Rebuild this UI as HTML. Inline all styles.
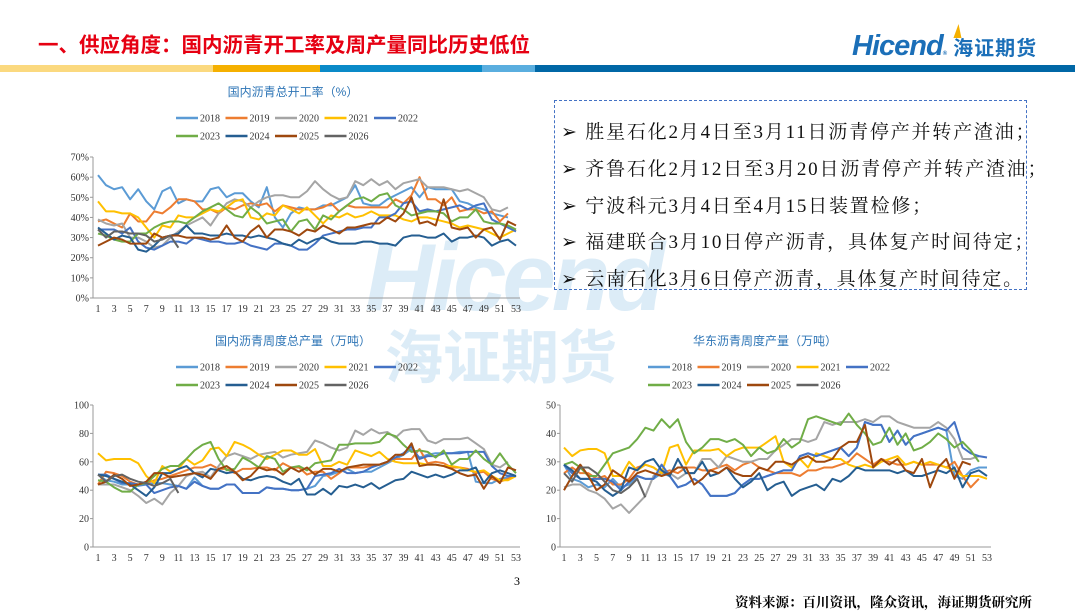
<!DOCTYPE html>
<html><head><meta charset="utf-8">
<style>
body{margin:0;width:1080px;height:607px;overflow:hidden;background:#fff;position:relative;font-family:"Liberation Serif","Noto Serif CJK SC",serif;}
.abs{position:absolute;}
#title{left:38px;top:28px;font-size:20.5px;color:#e60012;font-family:"Liberation Sans","Noto Sans CJK SC",sans-serif;font-weight:bold;}
.bar{position:absolute;top:65px;height:7px;}
#box{left:554px;top:100px;width:471px;height:188px;border:1.5px dashed #4472c4;}
.bl{position:absolute;left:6px;font-size:19px;color:#111;white-space:nowrap;font-family:"Liberation Serif","Noto Serif CJK SC",serif;letter-spacing:1.8px;}
svg{position:absolute;left:0;top:0;}
</style></head><body>
<div id="title" class="abs">一、供应角度：国内沥青开工率及周产量同比历史低位</div>
<div class="bar" style="left:0;width:213px;background:#fbd97f"></div>
<div class="bar" style="left:213px;width:107px;background:#f5b000"></div>
<div class="bar" style="left:320px;width:162px;background:#0a8ac8"></div>
<div class="bar" style="left:482px;width:53px;background:#5aaedf"></div>
<div class="bar" style="left:535px;width:540px;background:#0067a6"></div>
<div class="abs" style="left:852px;top:30px;font-family:'Liberation Sans','Noto Sans CJK SC',sans-serif;font-weight:bold;color:#1b6fb8;white-space:nowrap;">
<span style="font-size:29px;font-style:italic;letter-spacing:-1px">Hicend</span><span style="font-size:6px">®</span><span style="font-size:20px;margin-left:6px;letter-spacing:1px">海证期货</span>
<div class="abs" style="left:104px;top:-6px;width:0;height:0;border-left:8px solid #f5b000;border-top:14px solid transparent;transform:skewX(-20deg)"></div></div>
<div class="abs" style="left:365px;top:228px;color:#dcecf7;font-family:'Liberation Sans','Noto Sans CJK SC',sans-serif;font-weight:bold;white-space:nowrap;z-index:0">
<div style="font-size:96px;font-style:italic;letter-spacing:-4px;line-height:100px">Hicend</div>
<div style="font-size:58px;line-height:62px;margin-left:20px">海证期货</div></div>
<svg id="chart" width="1080" height="607"></svg>
<div id="box" class="abs">
<div class="bl" style="top:16px">➢ 胜星石化2月4日至3月11日沥青停产并转产渣油；</div>
<div class="bl" style="top:53px">➢ 齐鲁石化2月12日至3月20日沥青停产并转产渣油；</div>
<div class="bl" style="top:90px">➢ 宁波科元3月4日至4月15日装置检修；</div>
<div class="bl" style="top:126px">➢ 福建联合3月10日停产沥青，具体复产时间待定；</div>
<div class="bl" style="top:163px">➢ 云南石化3月6日停产沥青，具体复产时间待定。</div>
</div>
<div class="abs" style="left:514px;top:574px;font-size:12px">3</div>
<div class="abs" style="left:735px;top:591px;font-size:13.5px;font-weight:bold;font-family:'Liberation Serif','Noto Serif CJK SC',serif">资料来源：百川资讯，隆众资讯，海证期货研究所</div>
<script>
const years=["2018","2019","2020","2021","2022","2023","2024","2025","2026"];
const colors=["#5b9bd5","#ed7d31","#a5a5a5","#ffc000","#4472c4","#70ad47","#255e91","#9e480e","#636363"];
const rate2018=[61,56,54,55,49,54,48,44,53,55,47,49,48,48,54,55,50,52,52,48,45,55,40,35,42,45,44,44,46,46,48,50,56,47,46,46,49,51,53,55,50,55,54,54,54,48,47,45,44,42,41,40];
const rate2019=[38,39,37,35,42,38,38,43,42,45,49,49,48,44,44,42,45,44,46,47,46,47,43,46,45,44,44,44,45,47,43,46,45,45,45,45,45,49,47,51,60,49,49,46,50,43,44,44,42,43,38,42];
const rate2020=[39,37,36,37,30,30,28,25,26,30,33,36,38,40,36,42,47,49,48,45,48,50,51,51,50,50,53,58,54,51,49,50,58,56,59,56,58,54,57,58,59,55,55,55,54,53,54,52,50,44,43,45];
const rate2021=[48,43,43,42,42,40,35,30,36,35,41,40,40,42,44,43,45,48,49,40,39,42,41,46,44,42,45,41,37,41,40,42,40,41,43,41,41,41,39,38,40,40,39,38,37,35,36,35,34,32,30,32,34];
const rate2022=[34,34,34,32,35,28,25,24,26,28,28,27,30,29,28,28,27,27,28,26,25,24,27,27,26,24,24,27,31,32,33,34,34,35,35,40,40,42,47,48,43,44,43,44,45,46,44,46,47,39,37,35,33];
const rate2023=[32,31,29,28,28,32,32,35,37,38,38,37,40,43,45,47,44,41,40,45,42,37,38,39,33,38,39,34,41,39,43,46,49,50,48,51,52,46,44,41,42,43,43,42,38,40,40,44,38,37,37,36,34];
const rate2024=[35,32,29,31,30,24,23,26,30,31,32,36,32,32,31,31,32,31,31,30,31,30,29,27,26,29,27,29,30,28,27,27,27,28,28,27,27,26,30,31,31,30,30,32,28,30,30,31,30,26,28,29,26];
const rate2025=[26,28,30,29,27,27,27,32,30,31,31,30,30,30,29,30,36,30,28,33,36,30,34,34,33,31,34,33,36,34,32,35,35,36,37,37,40,38,42,50,37,38,36,49,35,34,35,30,34,35,29,38,36];
const rate2026=[34,30,33,33,32,32,31,28,29,31,25];
const nat2018=[51,47,46,44,44,43,44,45,45,44,43,41,49,43,41,41,44,44,38,38,38,42,41,41,40,40,41,43,50,51,53,55,52,53,53,56,59,62,65,69,63,65,66,66,66,67,67,46,45,45,48,49,50];
const nat2019=[44,53,52,50,46,44,45,47,48,50,52,54,56,56,58,55,55,52,55,55,56,56,54,59,56,56,51,53,53,48,52,56,56,56,57,58,60,62,62,62,69,59,60,59,56,56,55,52,53,48,46,48,50];
const nat2020=[44,44,44,42,40,36,31,34,30,38,43,50,52,53,49,57,64,66,64,62,65,66,67,63,65,66,67,75,73,70,68,70,82,79,83,80,81,77,82,83,83,75,73,76,76,76,77,73,69,58,56,60];
const nat2021=[66,61,62,62,62,59,50,45,57,53,55,62,58,61,69,70,64,74,72,69,65,62,65,68,68,65,65,69,57,57,60,58,68,66,64,67,62,60,59,59,59,58,58,57,57,56,54,53,54,50,47,47,50];
const nat2022=[51,51,48,45,45,44,44,38,40,42,43,41,46,43,41,41,44,44,38,38,38,42,41,41,40,40,41,50,51,52,55,52,52,53,56,58,60,63,66,71,62,64,64,66,66,66,67,67,67,57,52,50,50];
const nat2023=[47,46,42,39,39,44,45,50,55,57,57,62,68,72,74,62,54,55,63,60,56,64,62,53,56,57,54,59,60,61,72,72,73,73,73,74,80,78,72,67,68,67,63,68,58,62,62,68,62,58,66,58,52];
const nat2024=[51,50,48,46,44,40,36,42,52,52,55,57,52,49,55,54,52,53,48,47,49,50,49,46,44,48,37,37,41,37,43,42,44,42,45,41,44,47,48,53,51,49,51,49,51,54,54,56,45,52,54,52,50];
const nat2025=[44,46,51,48,43,44,46,52,52,49,50,51,52,51,48,55,57,53,47,50,56,54,55,51,56,53,56,51,55,55,53,56,57,58,58,58,60,65,65,73,57,58,58,57,55,52,50,51,41,50,45,56,54];
const nat2026=[51,46,50,51,48,46,45,43,45,48,38];
const east2018=[29,24,23,21,22,21,24,21,22,25,24,24,26,25,21,22,24,22,18,18,18,19,22,24,24,25,26,27,27,32,33,32,33,34,35,32,35,44,43,43,37,41,36,39,40,41,42,41,25,24,27,28,28];
const east2019=[26,28,26,26,24,25,22,22,24,28,29,28,26,27,26,28,28,27,27,28,29,27,29,30,28,27,26,26,26,25,27,27,28,28,29,30,33,31,29,31,30,29,29,30,29,29,29,28,30,25,21,24];
const east2020=[21,22,22,20,19,17,13.5,15,12,15,18,25,27,26,24,26,26,31,31,28,32,31,30,30,31,31,34,36,38,38,37,38,44,43,44,44,44,45,44,46,46,44,43,42,42,42,44,42,38,31,31,32];
const east2021=[35,32,34,34.5,34.5,33,25,25,30,27,29,28,26,35,36,29,34,34,34,34.5,32,34,35,35,35,37,39,30,28,31,28,33,32,31,31,29,28,29,28,30,31,32,29,30,29,30,29,28,27,25,25,25,24];
const east2022=[29,26,24,24,24,24,23,20,23,25,24,24,29,25,21,22,24,22,18,18,18,19,22,24,24,25,26,27,27,32,33,32,33,34,35,32,35,44,43,43,37,41,36,39,40,41,42,41,44,35,33,32,31.5];
const east2023=[29,30,28,25,25,29,33,34,35,38,42,41,45,42,45,37,33,35,38,38,37,38,36,32,35,33,34,38,35,37,45,46,45,44,43,47,43,40,36,37,42,36,40,34,35,37,40,38,35,37,34,30];
const east2024=[29,27,24,24,23,20,18,20,28,27,30,31,27,25,31,26,26,30,25,26,28,24,21,23,26,20,22,23,18,20,21,22,20,24,23,25,28,27,27,27,27,26,27,25,25,26,27,26,28,21,26,27,25];
const east2025=[20,25,29,25,20,22,27,25,23,26,27,26,25,26,28,28,22,24,27,26,28,26,25,25,28,27,30,30,29,31,32,30,30,31,35,37,37,43,28,31,29,31,27,26,31,21,28,31,24,30,29];
const east2026=[26,23,28,28,26,23,20,19,21,24,17.5];
const rateTicks=["0%","10%","20%","30%","40%","50%","60%","70%"];
const natTicks=["0","20","40","60","80","100"];
const eastTicks=["0","10","20","30","40","50"];
const weeks=[];for(let w=1;w<=53;w+=2)weeks.push(String(w));

const svg=document.getElementById('chart');
const NS="http://www.w3.org/2000/svg";
function mk(tag,attrs,parent){const e=document.createElementNS(NS,tag);for(const k in attrs)e.setAttribute(k,attrs[k]);(parent||svg).appendChild(e);return e;}
function chart(cfg,name){
  const g=mk('g',{});
  
  
  const xs=w=>cfg.x1+(w-1)*(cfg.x53-cfg.x1)/52;
  const ys=v=>cfg.y0-(v/cfg.max)*(cfg.y0-cfg.yTop);
  const t=mk('text',{x:cfg.tx,y:cfg.ty,'text-anchor':'middle','font-size':12,fill:'#2e75b6','font-family':'Liberation Sans,Noto Sans CJK SC,sans-serif'},g);t.textContent=cfg.title;
  
  
  mk('line',{x1:cfg.ax0,x2:cfg.ax0,y1:cfg.yTop,y2:cfg.y0,stroke:'#999'},g);
  mk('line',{x1:cfg.ax0,x2:cfg.ax1,y1:cfg.y0,y2:cfg.y0,stroke:'#999'},g);
  const n=cfg.ticks.length;
  cfg.ticks.forEach((lb,i)=>{const v=cfg.max*i/(n-1);const y=ys(v);
    mk('line',{x1:cfg.ax0-3,x2:cfg.ax0,y1:y,y2:y,stroke:'#999'},g);
    const tt=mk('text',{x:cfg.ax0-4,y:y+3.5,'text-anchor':'end','font-size':10,fill:'#333'},g);tt.textContent=lb;
    
    });
  weeks.forEach(lb=>{const tt=mk('text',{x:xs(+lb),y:cfg.y0+14,'text-anchor':'middle','font-size':10,fill:'#333'},g);tt.textContent=lb;
    
    });
  cfg.series.forEach((arr,i)=>{
    const p=mk('polyline',{points:arr.map((v,j)=>xs(j+1)+','+ys(v)).join(' '),fill:'none',stroke:colors[i],'stroke-width':2,'stroke-linejoin':'round'},g);
    
    
  });
  years.forEach((yr,i)=>{const row=i<5?0:1;const col=i<5?i:i-5;
    const lx=cfg.lx+col*49.5,ly=cfg.ly+row*18;
    const le=mk('g',{},g);
    
    
    mk('line',{x1:lx,x2:lx+22,y1:ly,y2:ly,stroke:colors[i],'stroke-width':2.5},le);
    const tt=mk('text',{x:lx+24,y:ly+3.5,'font-size':10,fill:'#333'},le);tt.textContent=yr;});
}
chart({title:"国内沥青总开工率（%）",tx:293,ty:96,ax0:93,ax1:520,x1:98,x53:516,y0:298,yTop:157,max:70,ticks:rateTicks,lx:176,ly:118,
  series:[rate2018,rate2019,rate2020,rate2021,rate2022,rate2023,rate2024,rate2025,rate2026]},'rate-chart');
chart({title:"国内沥青周度总产量（万吨）",tx:293,ty:345,ax0:93,ax1:520,x1:98,x53:516,y0:547,yTop:405,max:100,ticks:natTicks,lx:176,ly:367,
  series:[nat2018,nat2019,nat2020,nat2021,nat2022,nat2023,nat2024,nat2025,nat2026]},'national-output-chart');
chart({title:"华东沥青周度产量（万吨）",tx:765,ty:345,ax0:560,ax1:991,x1:564,x53:987,y0:547,yTop:405,max:50,ticks:eastTicks,lx:648,ly:367,
  series:[east2018,east2019,east2020,east2021,east2022,east2023,east2024,east2025,east2026]},'east-china-output-chart');
</script>
</body></html>
